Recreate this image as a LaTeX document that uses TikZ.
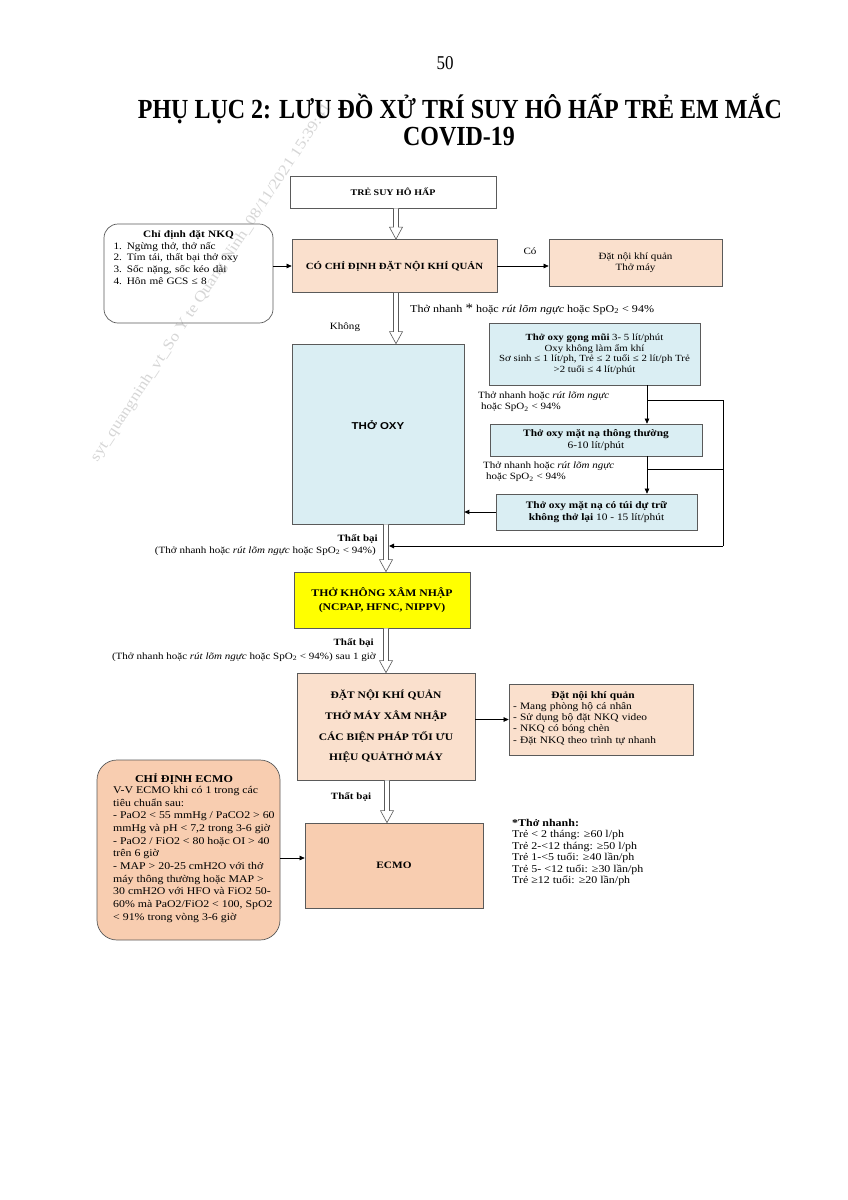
\documentclass[tikz,border=0pt]{standalone}
\usepackage{fontspec}
\setmainfont{Liberation Serif}[FakeStretch=1.15]
\newfontfamily\titlef{Liberation Serif}
\newfontfamily\sansf{Liberation Sans}[FakeStretch=1.15]
\usetikzlibrary{arrows.meta,calc}
\definecolor{peach}{HTML}{FAE0CD}
\definecolor{peachd}{HTML}{F8CDB0}
\definecolor{lblue}{HTML}{DAEEF3}
\definecolor{bord}{HTML}{5A5A5A}
\definecolor{wm}{HTML}{D6D6D6}
\definecolor{yel}{HTML}{FFFF00}
\newcommand{\fsz}[2]{\fontsize{#1}{#2}\selectfont}
\newcommand{\spo}{SpO\textsubscript{2}}
\newcommand{\harrow}[3]{%
  \draw[bord,line width=0.6pt,fill=white] let \p1=(#2), \p2=(#3) in
    (#1pt-2.5pt,\y1) -- (#1pt-2.5pt,\y2+12pt) -- (#1pt-6.5pt,\y2+12pt) --
    (#1pt,\y2) -- (#1pt+6.5pt,\y2+12pt) -- (#1pt+2.5pt,\y2+12pt) -- (#1pt+2.5pt,\y1);}
\begin{document}
\begin{tikzpicture}[x=1pt,y=-1pt,
  box/.style={draw=bord,line width=0.7pt,inner sep=0pt,align=center,font=\fsz{9.6}{11.5}},
  lbl/.style={inner sep=0pt,font=\fsz{9.6}{11}},
  arr/.style={-{Triangle[length=5pt,width=4.5pt]},line width=0.6pt,black},
  fb/.style={line width=1pt,black}]
\useasboundingbox (0,0) rectangle (848,1200);
\fill[white] (0,0) rectangle (848,1200);

% watermark
\node[lbl,text=wm,rotate=56.6,font=\fsz{15}{15}] (wmk) at (211.5,282.5) {syt\_quangninh\_vt\_So Y te Quang Ninh\_08/11/2021 15:39:41};

% title
\node[lbl,font=\titlef\fsz{17}{17}] (pg) at (445,63) {\scalebox{1}[1.15]{50}};
\node[lbl,font=\titlef\bfseries\fsz{24}{24}] (t1) at (460,109) {\scalebox{1}[1.15]{PHỤ LỤC 2: LƯU ĐỒ XỬ TRÍ SUY HÔ HẤP TRẺ EM MẮC}};
\node[lbl,font=\titlef\bfseries\fsz{24}{24}] (t2) at (459,137) {\scalebox{1}[1.15]{COVID-19}};

% boxes
\node[box,minimum width=206,minimum height=32,font=\fsz{8.7}{10}\bfseries] (trs) at (393,192) {TRẺ SUY HÔ HẤP};
\node[box,fill=peach,minimum width=205,minimum height=53,font=\fsz{9.4}{11}\bfseries] (co) at (394.5,266) {CÓ CHỈ ĐỊNH ĐẶT NỘI KHÍ QUẢN};
\node[box,rounded corners=14pt,minimum width=169,minimum height=99] (nkq) at (188.5,273.5) {};
\node[lbl,text width=150,align=left,font=\fsz{9.8}{11.7}] (nkqt) at (188.5,257.5) {{\centering\textbf{Chỉ định đặt NKQ}\par}1. Ngừng thở, thở nấc\\2. Tím tái, thất bại thở oxy\\3. Sốc nặng, sốc kéo dài\\4. Hôn mê GCS ≤ 8};
\node[box,fill=peach,minimum width=173,minimum height=47] (dat1) at (635.5,262.5) {Đặt nội khí quản\\Thở máy};

\node[box,fill=lblue,minimum width=172,minimum height=180] (oxy) at (378,434) {};
\node[lbl,font=\sansf\bfseries\fsz{10}{12}] (oxyt) at (378,425) {THỞ OXY};

\node[box,fill=lblue,minimum width=211,minimum height=62,font=\fsz{9.4}{10.5}] (o1) at (594.5,354) {\textbf{Thở oxy gọng mũi} 3- 5 lít/phút\\Oxy không làm ẩm khí\\Sơ sinh ≤ 1 lít/ph, Trẻ ≤ 2 tuổi ≤ 2 lít/ph Trẻ\\>2 tuổi ≤ 4 lít/phút};
\node[box,fill=lblue,minimum width=212,minimum height=32,font=\fsz{9.9}{11.5}] (o2) at (596,440) {\textbf{Thở oxy mặt nạ thông thường}\\6-10 lít/phút};
\node[box,fill=lblue,minimum width=201,minimum height=36,font=\fsz{9.9}{12}] (o3) at (596.5,512) {\textbf{Thở oxy mặt nạ có túi dự trữ}\\\textbf{không thở lại} 10 - 15 lít/phút};

\node[box,fill=yel,minimum width=176,minimum height=56,font=\fsz{10.2}{14}\bfseries] (yel) at (382,600) {THỞ KHÔNG XÂM NHẬP\\(NCPAP, HFNC, NIPPV)};

\node[box,fill=peach,minimum width=178,minimum height=107,font=\fsz{10}{20.7}\bfseries] (dat2) at (386,726.5) {ĐẶT NỘI KHÍ QUẢN\\THỞ MÁY XÂM NHẬP\\CÁC BIỆN PHÁP TỐI ƯU\\HIỆU QUẢTHỞ MÁY};
\node[box,fill=peach,minimum width=184,minimum height=71] (dat3) at (601,719.5) {};
\node[lbl,text width=160,align=left,font=\fsz{9.9}{11.2}] (dat3t) at (593,718) {{\centering\textbf{Đặt nội khí quản}\par}- Mang phòng hộ cá nhân\\- Sử dụng bộ đặt NKQ video\\- NKQ có bóng chèn\\- Đặt NKQ theo trình tự nhanh};

\node[box,fill=peachd,minimum width=178,minimum height=85,font=\fsz{9.8}{12}\bfseries] (ecmo) at (394,865.5) {ECMO};
\node[box,fill=peachd,rounded corners=20pt,minimum width=183,minimum height=180] (ecmoc) at (188.5,850) {};
\node[lbl,font=\fsz{10.5}{11.7}\bfseries] (ecmott) at (184,779) {CHỈ ĐỊNH ECMO};
\node[lbl,anchor=north west,align=left,font=\fsz{10.3}{12.7}] (ecmot) at (113,786) {V-V ECMO khi có 1 trong các\\tiêu chuẩn sau:\\- PaO2 < 55 mmHg / PaCO2 > 60\\mmHg và pH < 7,2 trong 3-6 giờ\\- PaO2 / FiO2 < 80 hoặc OI > 40\\trên 6 giờ\\- MAP > 20-25 cmH2O với thở\\máy thông thường hoặc MAP >\\30 cmH2O với HFO và FiO2 50-\\60\% mà PaO2/FiO2 < 100, SpO2\\< 91\% trong vòng 3-6 giờ};

\node[lbl,anchor=north west,align=left,font=\fsz{10.4}{11.5}] (rapid) at (512,819) {\textbf{*Thở nhanh:}\\Trẻ < 2 tháng: ≥60 l/ph\\Trẻ 2-<12 tháng: ≥50 l/ph\\Trẻ 1-<5 tuổi: ≥40 lần/ph\\Trẻ 5- <12 tuổi: ≥30 lần/ph\\Trẻ ≥12 tuổi: ≥20 lần/ph};

% labels
\node[lbl] (lco) at (530,251) {Có};
\node[lbl] (lkh) at (345,327) {Không};
\node[lbl,anchor=west,font=\fsz{10.5}{12}] (ltop) at (410,309) {Thở nhanh {\fsz{13}{13}*} hoặc \textit{rút lõm ngực} hoặc \spo{} < 94\%};
\node[lbl,anchor=north west,align=left] (lo1) at (478,392) {Thở nhanh hoặc \textit{rút lõm ngực}\\\hspace*{3pt}hoặc \spo{} < 94\%};
\node[lbl,anchor=north west,align=left] (lo2) at (483,462) {Thở nhanh hoặc \textit{rút lõm ngực}\\\hspace*{3pt}hoặc \spo{} < 94\%};
\node[lbl,anchor=east,font=\fsz{9.6}{11}\bfseries] (lf1) at (378,539) {Thất bại};
\node[lbl,anchor=east] (lf1b) at (376,551) {(Thở nhanh hoặc \textit{rút lõm ngực} hoặc \spo{} < 94\%)};
\node[lbl,anchor=east,font=\fsz{9.6}{11}\bfseries] (lf2) at (374,643) {Thất bại};
\node[lbl,anchor=east] (lf2b) at (376,657) {(Thở nhanh hoặc \textit{rút lõm ngực} hoặc \spo{} < 94\%) sau 1 giờ};
\node[lbl,font=\fsz{9.6}{11}\bfseries] (lf3) at (351,797) {Thất bại};

% hollow arrows
\harrow{396}{trs.south}{co.north}
\harrow{396}{co.south}{oxy.north}
\harrow{386}{oxy.south}{yel.north}
\harrow{386}{yel.south}{dat2.north}
\harrow{387}{dat2.south}{ecmo.north}

% black arrows
\draw[arr] (nkq.east |- co.west) -- (co.west);
\draw[arr] (co.east) -- (co.east -| dat1.west);
\path (o1.south) ++(52.5,0) coordinate (f1);
\draw[arr] (f1) -- (f1 |- o2.north);
\path (o2.south) ++(51,0) coordinate (f2);
\draw[arr] (f2) -- (f2 |- o3.north);
\coordinate (j1) at (647,400);
\coordinate (j2) at (647,469);
\coordinate (rt) at (723,546);
\coordinate (lf) at (389,546);
\draw[fb] (j1) -| (rt);
\draw[fb] (j2) -- (j2 -| rt);
\draw[arr,fb] (rt) -- (lf);
\draw[arr,fb] (o3.west) -- (o3.west -| oxy.east);
\draw[arr] (dat3.west -| dat2.east) -- (dat3.west);
\draw[arr] (ecmoc.east |- 0,858) -- (ecmo.west |- 0,858);
\end{tikzpicture}
\end{document}
